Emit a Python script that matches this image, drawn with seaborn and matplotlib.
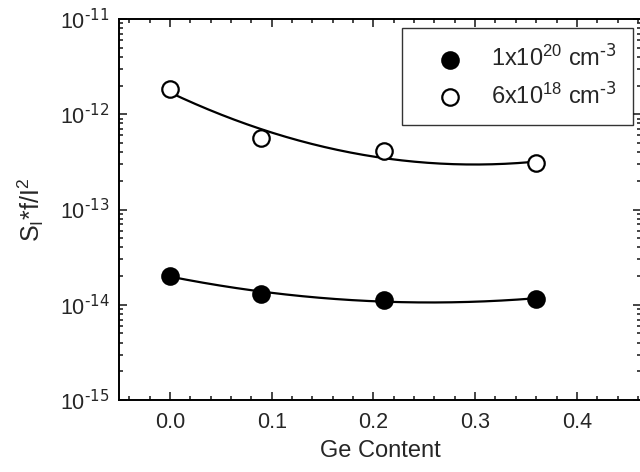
import numpy as np
import pandas as pd
import matplotlib
matplotlib.use("Agg")
import matplotlib.pyplot as plt
from matplotlib.ticker import MultipleLocator, LogLocator, FuncFormatter, NullFormatter
import seaborn as sns

# Ge content of the samples
ge_content = [0.0, 0.09, 0.21, 0.36]
# normalized noise S_I*f/I^2, two doping levels
noise_1e20 = [2.02e-14, 1.31e-14, 1.12e-14, 1.16e-14]
noise_6e18 = [1.86e-12, 5.6e-13, 4.1e-13, 3.05e-13]

label_1e20 = r"1x10$^{\mathregular{20}}$ cm$^{\text{-3}}$"
label_6e18 = r"6x10$^{\mathregular{18}}$ cm$^{\text{-3}}$"

sns.set_style("ticks")
plt.rcParams["font.family"] = ["Liberation Sans", "DejaVu Sans"]
plt.rcParams["mathtext.default"] = "regular"

df = pd.DataFrame({
    "ge": ge_content * 2,
    "noise": noise_1e20 + noise_6e18,
    "series": [label_1e20] * 4 + [label_6e18] * 4,
})

# quadratic fit in log space, as drawn in the original
xfit = np.linspace(min(ge_content), max(ge_content), 200)
fits = []
for vals, lab in [(noise_1e20, label_1e20), (noise_6e18, label_6e18)]:
    coef = np.polyfit(ge_content, np.log10(vals), 2)
    fits.append(pd.DataFrame({"ge": xfit, "noise": 10 ** np.polyval(coef, xfit), "series": lab}))
df_fit = pd.concat(fits)

fig = plt.figure(figsize=(6.4, 4.72), dpi=100)
ax = fig.add_axes([119 / 640, 1 - 400 / 472, (641 - 119) / 640, (400 - 19) / 472])

sns.lineplot(data=df_fit, x="ge", y="noise", units="series", estimator=None,
             color="black", lw=1.6, ax=ax, legend=False, zorder=2)

for lab, face in [(label_1e20, "black"), (label_6e18, "white")]:
    sub = df[df.series == lab]
    sns.scatterplot(data=sub, x="ge", y="noise", ax=ax, s=140, marker="o",
                    facecolor=face, edgecolor="black", linewidth=1.6,
                    label=lab, zorder=3)

ax.set_yscale("log")
ax.set_xlim(-0.05, 0.463)
ax.set_ylim(1e-15, 1e-11)

ax.xaxis.set_major_locator(MultipleLocator(0.1))
ax.xaxis.set_minor_locator(MultipleLocator(0.02))
ax.xaxis.set_major_formatter(FuncFormatter(lambda v, p: f"{v:.1f}"))
ax.yaxis.set_major_locator(LogLocator(base=10, numticks=10))
ax.yaxis.set_minor_locator(LogLocator(base=10, subs=np.arange(2, 10), numticks=20))
ax.yaxis.set_minor_formatter(NullFormatter())
ax.yaxis.set_major_formatter(FuncFormatter(
    lambda v, p: r"10$^{\text{%d}}$" % int(round(np.log10(v)))))

ax.tick_params(which="both", direction="in", top=True, right=True, width=1.2, labelsize=15.5)
ax.tick_params(axis="x", which="major", length=6, pad=9)
ax.tick_params(axis="y", which="major", length=6, pad=7)
ax.tick_params(which="minor", length=3)
for sp in ax.spines.values():
    sp.set_linewidth(1.4)
    sp.set_color("black")

ax.set_xlabel("Ge Content", fontsize=17, labelpad=5)
ax.set_ylabel(r"S$_{\mathregular{I}}$*f/I$^{\mathregular{2}}$", fontsize=18, labelpad=10)

leg = ax.legend(loc="upper right", bbox_to_anchor=((633 - 119) / 522, 1 - 9 / 381),
                fontsize=17, frameon=True, fancybox=False, edgecolor="black",
                borderpad=0.7, handlelength=2.7, handletextpad=0.35, labelspacing=0.45,
                borderaxespad=0, markerscale=1.0)
leg.get_frame().set_linewidth(1.0)

fig.savefig("out.png", dpi=100)
